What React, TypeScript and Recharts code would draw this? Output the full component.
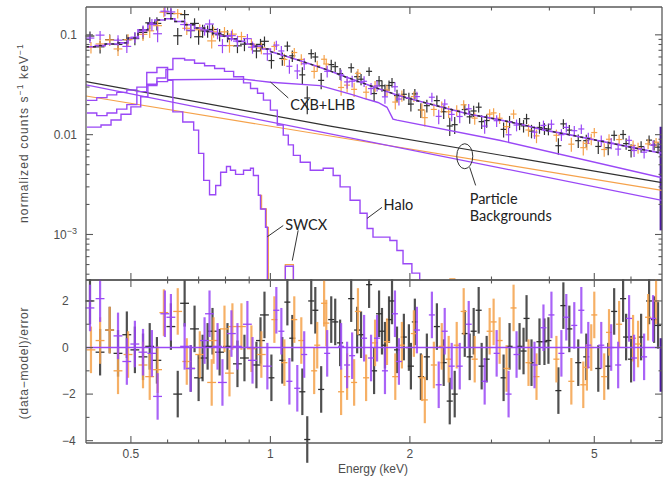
import React from 'react';
import {
  ComposedChart,
  Line,
  Scatter,
  ErrorBar,
  XAxis,
  YAxis,
  ReferenceLine,
  ReferenceDot,
} from 'recharts';

// ---------------- colours / fonts ----------------
const C_BLACK = '#303030';
const C_ORANGE = '#f5a24b';
const C_PURPLE = '#9a48f6';
const C_EDGE = '#4b1a9e';
const FRAME = '#5a5a5a';
const TICK_TEXT = '#4d4d4d';
const AXIS_FONT = '"Liberation Sans", Arial, Helvetica, sans-serif';
const NOTE_FONT = 'Lato, "Open Sans", "Noto Sans", sans-serif';

// ---------------- axes ----------------
const energyDomain = [0.4, 7];
const energyTicks = [0.5, 0.6, 0.7, 0.8, 0.9, 1, 2, 3, 4, 5, 6];
const energyMajor = [0.5, 1, 2, 5];
const energyLabels = ['0.5', '1', '2', '5'];

const fluxDomain = [3.5e-4, 0.19];
const fluxTicks = [
  0.0004, 0.0005, 0.0006, 0.0007, 0.0008, 0.0009, 0.001, 0.002, 0.003, 0.004, 0.005, 0.006, 0.007,
  0.008, 0.009, 0.01, 0.02, 0.03, 0.04, 0.05, 0.06, 0.07, 0.08, 0.09, 0.1,
];
const fluxMajor = [0.001, 0.01, 0.1];
const fluxLabels = ['10^-3', '0.01', '0.1'];

const residDomain = [-4.1, 2.9];
const residTicks = [-4, -3, -2, -1, 0, 1, 2];
const residMajor = [-4, -2, 0, 2];
const residLabels = ['−4', '−2', '0', '2'];

// ---------------- model components (keV, counts/s/keV) ----------------
const totalLowE = [0.4, 0.419, 0.44, 0.469, 0.493, 0.518, 0.544, 0.563, 0.592, 0.622, 0.653, 0.686, 0.721, 0.75, 0.78, 0.81, 0.845, 0.88, 0.92, 0.96, 1.0];
const totalLowV = [0.076, 0.078, 0.081, 0.083, 0.093, 0.112, 0.131, 0.141, 0.145, 0.136, 0.126, 0.117, 0.108, 0.103, 0.097, 0.091, 0.086, 0.081, 0.077, 0.072, 0.068];
const totalHighE = [1.0, 1.077, 1.16, 1.25, 1.346, 1.45, 1.56, 1.72, 1.875, 2.05, 2.21, 2.44, 2.69, 3.07, 3.45, 3.9, 4.41, 5.05, 5.66, 6.25, 7.0];
const totalHighV = [0.068, 0.0615, 0.055, 0.049, 0.0435, 0.038, 0.0337, 0.0287, 0.025, 0.0222, 0.0203, 0.018, 0.016, 0.0143, 0.0128, 0.0111, 0.01, 0.0088, 0.0079, 0.0072, 0.0065];

const cxbLowE = [0.402, 0.422, 0.444, 0.466, 0.49, 0.515, 0.541, 0.569, 0.6];
const cxbLowV = [0.022, 0.0235, 0.025, 0.0265, 0.028, 0.03, 0.032, 0.034, 0.0355];
const cxbHighE = [0.6, 0.875, 1.0, 1.281, 1.508, 1.585, 1.707, 1.785, 1.839, 1.876, 3.12, 7.0];
const cxbHighV = [0.0355, 0.036, 0.0335, 0.031, 0.025, 0.0232, 0.021, 0.0188, 0.0143, 0.014, 0.0088, 0.0037];

const haloE = [0.402, 0.431, 0.453, 0.476, 0.5, 0.525, 0.544, 0.569, 0.595, 0.616, 0.653, 0.686, 0.721, 0.758, 0.796, 0.833, 0.875, 0.906, 0.938, 0.966, 1.0, 1.035, 1.066, 1.093, 1.121, 1.16, 1.219, 1.3, 1.366, 1.414, 1.486, 1.561, 1.617, 1.665, 1.811, 1.875, 1.933, 2.02, 2.1, 7.0];
const haloV = [0.0119, 0.0125, 0.014, 0.016, 0.019, 0.024, 0.031, 0.037, 0.045, 0.058, 0.056, 0.052, 0.049, 0.046, 0.043, 0.038, 0.033, 0.029, 0.026, 0.0222, 0.0176, 0.0125, 0.0099, 0.0079, 0.0062, 0.0053, 0.0044, 0.0046, 0.0039, 0.003, 0.0022, 0.00163, 0.00115, 0.00094, 0.00087, 0.00069, 0.00051, 0.00041, 0.00001, 0.00001];

const swcxE = [0.402, 0.422, 0.444, 0.466, 0.49, 0.515, 0.541, 0.569, 0.6, 0.616, 0.647, 0.683, 0.7, 0.718, 0.739, 0.762, 0.781, 0.804, 0.82, 0.841, 0.875, 0.906, 0.919, 0.942, 0.952, 0.976, 0.985, 1.077, 1.121, 7.0];
const swcxV = [0.0165, 0.0155, 0.0165, 0.018, 0.02, 0.027, 0.042, 0.047, 0.035, 0.0169, 0.0134, 0.0111, 0.0065, 0.00348, 0.0025, 0.0031, 0.0042, 0.0048, 0.0044, 0.004, 0.0044, 0.0046, 0.0039, 0.00247, 0.0018, 0.00118, 0.00001, 0.00048, 0.00001, 0.00001];

// orange-detector copy of the SWCX/halo tail that peeks out near the bottom
const swcxOrangeE = [0.942, 0.957, 0.98, 0.99, 1.077, 1.121, 2.44, 2.5, 7.0];
const swcxOrangeV = [0.00247, 0.0018, 0.00118, 0.00001, 0.0005, 0.00001, 0.00036, 0.00001, 0.00001];

const particleE = [0.4, 1.346, 7.0];
const particleBlackV = [0.034, 0.0122, 0.0033];
const particleOrangeV = [0.0244, 0.0097, 0.00277];
const particlePurpleV = [0.0315, 0.0102, 0.0022];

// ---------------- data bins: energies and residuals ----------------
const blackE = [0.408, 0.429, 0.45, 0.469, 0.49, 0.51, 0.531, 0.549, 0.569, 0.61, 0.631, 0.653, 0.673, 0.686, 0.7, 0.714, 0.732, 0.75, 0.777, 0.808, 0.849, 0.879, 0.933, 0.952, 0.971, 1.005, 1.061, 1.088, 1.115, 1.172, 1.201, 1.225, 1.25, 1.287, 1.353, 1.38, 1.414, 1.494, 1.539, 1.569, 1.633, 1.674, 1.716, 1.741, 1.767, 1.803, 1.83, 1.876, 1.941, 1.99, 2.01, 2.05, 2.112, 2.176, 2.287, 2.366, 2.438, 2.499, 2.627, 2.692, 2.746, 2.815, 2.857, 2.929, 3.186, 3.282, 3.449, 3.518, 3.571, 3.66, 3.808, 3.903, 3.981, 4.183, 4.288, 4.417, 4.617, 4.805, 5.1, 5.358, 5.519, 5.77, 5.857, 6.003, 6.31, 6.565, 6.73, 6.864];
const blackR = [2.0, -0.2, 0.75, -0.25, 0.55, -0.1, -0.4, 0.05, -0.55, 0.9, -2.0, 1.9, -0.9, 0.8, -1.3, -0.45, 0.05, 0.7, -0.2, 0.05, -0.7, -0.45, -0.75, 0.3, 1.4, -1.3, -0.55, 1.95, 0.4, -1.9, -3.95, 2.0, 1.6, -1.8, 1.2, 1.1, 0.2, 2.1, 0.75, 0.55, 2.7, -1.0, 1.45, 0.7, 0.1, 1.2, 2.0, -0.1, 0.45, 0.0, -0.8, 1.1, -1.25, -0.4, 0.9, -0.65, -2.3, -2.0, 0.6, -0.4, 0.7, 1.6, -0.8, -0.5, -1.3, 0.05, 0.05, -0.15, 1.25, -0.65, 0.25, 0.25, 0.3, -1.85, 1.8, 0.8, -0.65, -0.4, -0.9, -0.8, 1.55, 2.1, 0.45, -0.5, 0.45, 2.0, 1.2, 0.95];

const orangeE = [0.41, 0.429, 0.45, 0.469, 0.493, 0.531, 0.549, 0.571, 0.589, 0.631, 0.66, 0.704, 0.747, 0.754, 0.796, 0.816, 0.828, 0.866, 0.91, 0.956, 1.02, 1.072, 1.126, 1.166, 1.243, 1.262, 1.306, 1.32, 1.421, 1.464, 1.516, 1.545, 1.609, 1.682, 1.785, 1.86, 1.922, 2.04, 2.123, 2.154, 2.253, 2.343, 2.425, 2.524, 2.613, 2.76, 2.973, 3.032, 3.124, 3.233, 3.348, 3.606, 3.752, 4.142, 4.461, 4.734, 4.82, 4.925, 5.0, 5.253, 5.38, 5.657, 6.063, 6.215, 6.533, 6.797];
const orangeR = [-0.1, 0.3, 0.75, -1.0, -0.3, -0.75, -1.25, -0.95, 1.5, 1.55, -0.6, -0.3, -1.5, 0.3, 0.8, -1.1, 0.9, 0.9, -0.05, -0.3, 1.2, -0.65, 1.2, 0.3, -1.0, 0.1, 1.9, 1.05, -1.9, -1.25, -1.5, 1.55, -1.3, 0.2, 0.25, -1.25, 0.1, 0.6, -1.3, -2.25, -0.75, 0.05, -0.5, 0.1, 1.55, -0.5, 0.7, 1.1, 0.3, -0.9, 1.7, -0.65, -1.25, -0.5, -1.45, -1.6, -0.85, 0.0, 1.4, -1.25, 0.65, 1.0, 0.4, 0.15, 1.3, 2.0];

const purpleE = [0.408, 0.429, 0.469, 0.49, 0.51, 0.531, 0.555, 0.571, 0.592, 0.61, 0.653, 0.673, 0.721, 0.739, 0.769, 0.788, 0.824, 0.849, 0.892, 0.915, 0.985, 1.03, 1.056, 1.099, 1.143, 1.183, 1.326, 1.421, 1.464, 1.501, 1.593, 1.649, 1.699, 1.767, 1.857, 1.894, 2.071, 2.231, 2.308, 2.378, 2.462, 2.562, 2.679, 2.9, 3.078, 3.266, 3.398, 3.715, 3.884, 4.041, 4.246, 4.351, 4.527, 4.688, 4.853, 5.176, 5.438, 5.63, 5.944, 6.093, 6.405, 6.696];
const purpleR = [1.7, 2.1, 0.5, -0.6, 0.15, -0.2, -0.25, -2.1, 1.45, 1.3, 0.05, -0.9, 0.3, 1.45, 0.05, -1.5, 0.6, 0.05, 1.0, -0.55, -0.8, 1.6, 0.7, -1.45, -1.75, -0.3, -0.25, 0.05, -0.75, -0.35, 0.4, -0.45, 0.4, -1.0, 1.45, -0.6, 0.75, 1.4, -1.6, 0.7, -0.8, -0.8, 1.0, -1.45, -0.25, -2.0, -0.3, -0.75, 0.85, 1.4, -0.25, 1.3, 0.95, 1.6, 0.1, 0.1, 0.0, -0.75, 1.25, -0.45, -0.4, 1.25];

// last, very wide purple bin at the band edge
const edgeE = [6.96];
const edgeFlux = [0.0045];
const edgeFluxErr = [[0.0034, 0.0075]];
const edgeResid = [-0.75];
const edgeResidErr = [[1.15, 1.15]];

const blackRelErr = 0.14;
const orangeRelErr = 0.13;
const purpleRelErr = 0.13;

// ---------------- helpers ----------------
const toPts = (E: number[], V: number[]) => E.map((e, i) => ({ x: e, y: V[i] }));

function modelAt(e: number): number {
  if (e < totalHighE[0]) {
    let v = totalLowV[0];
    for (let i = 0; i < totalLowE.length; i++) if (totalLowE[i] <= e) v = totalLowV[i];
    return v;
  }
  for (let i = 0; i < totalHighE.length - 1; i++) {
    if (e >= totalHighE[i] && e <= totalHighE[i + 1]) {
      const t = Math.log(e / totalHighE[i]) / Math.log(totalHighE[i + 1] / totalHighE[i]);
      return Math.exp(Math.log(totalHighV[i]) + t * Math.log(totalHighV[i + 1] / totalHighV[i]));
    }
  }
  return totalHighV[totalHighV.length - 1];
}

const binHalf = (e: number) => e * (e < 1 ? 0.022 : 0.015);

const buildSpectrum = (E: number[], R: number[], rel: number) =>
  E.map((e, i) => {
    const m = modelAt(e);
    const err = m * rel;
    return { x: e, y: m + (R[i] ?? 0) * err, ey: err, ex: binHalf(e) };
  });

const buildResid = (E: number[], R: number[]) =>
  E.map((e, i) => ({ x: e, y: R[i] ?? 0, ey: 1, ex: binHalf(e) }));

const blackTop = buildSpectrum(blackE, blackR, blackRelErr);
const orangeTop = buildSpectrum(orangeE, orangeR, orangeRelErr);
const purpleTop = buildSpectrum(purpleE, purpleR, purpleRelErr);
const blackRes = buildResid(blackE, blackR);
const orangeRes = buildResid(orangeE, orangeR);
const purpleRes = buildResid(purpleE, purpleR);
const edgeTop = edgeE.map((e, i) => ({ x: e, y: edgeFlux[i], ey: edgeFluxErr[i], ex: 0.02 }));
const edgeRes = edgeE.map((e, i) => ({ x: e, y: edgeResid[i], ey: edgeResidErr[i], ex: 0.02 }));

// ---------------- ticks ----------------
const findMajor = (majors: number[], v: number) =>
  majors.findIndex((m) => (m === 0 ? Math.abs(v) < 1e-9 : Math.abs(v - m) <= Math.abs(m) * 1e-6));

function TickText({ s, x, y, anchor, dy }: any) {
  const m = /^10\^(.+)$/.exec(s);
  return (
    <text x={x} y={y} dy={dy} textAnchor={anchor} fill={TICK_TEXT} fontSize={12} fontFamily={AXIS_FONT}>
      {m ? (
        <>
          10
          <tspan dy={-5} fontSize={9}>
            {m[1].replace('-', '−')}
          </tspan>
        </>
      ) : (
        s
      )}
    </text>
  );
}

const makeYTick =
  (dir: number, majors: number[], labels: string[] | null, labelDx: number, anchor: string) =>
  (props: any) => {
    const { x, y, payload } = props;
    const idx = findMajor(majors, payload.value);
    const len = idx >= 0 ? 7 : 3.5;
    return (
      <g>
        <line x1={x} y1={y} x2={x + dir * len} y2={y} stroke={FRAME} strokeWidth={1.1} />
        {labels && idx >= 0 ? <TickText s={labels[idx]} x={x + labelDx} y={y} anchor={anchor} dy="0.36em" /> : null}
      </g>
    );
  };

const makeXTick = (dir: number, majors: number[], labels: string[] | null) => (props: any) => {
  const { x, y, payload } = props;
  const idx = findMajor(majors, payload.value);
  const len = idx >= 0 ? 7 : 3.5;
  return (
    <g>
      <line x1={x} y1={y} x2={x} y2={y + dir * len} stroke={FRAME} strokeWidth={1.1} />
      {labels && idx >= 0 ? <TickText s={labels[idx]} x={x} y={y + 15} anchor="middle" dy="0" /> : null}
    </g>
  );
};

const noShape = () => <g />;
const axisLineStyle = { stroke: FRAME, strokeWidth: 1.3 };
const lineCommon = { dataKey: 'y', dot: false, activeDot: false, isAnimationActive: false, legendType: 'none' as const };

const note = (text: string) => (p: any) =>
  (
    <text x={p.cx} y={p.cy} dy="0.35em" fontSize={14.5} fill="#222" fontFamily={NOTE_FONT}>
      {text}
    </text>
  );
const ellipseShape = (p: any) => <ellipse cx={p.cx} cy={p.cy} rx={8} ry={12.5} fill="none" stroke="#333" strokeWidth={1} />;

export default function App() {
  const topSeries = (
    [
      [blackTop, C_BLACK],
      [orangeTop, C_ORANGE],
      [purpleTop, C_PURPLE],
    ] as any[]
  ).map(([d, c], i) => (
    <Scatter key={'ts' + i} data={d} dataKey="y" isAnimationActive={false} shape={noShape} legendType="none">
      <ErrorBar dataKey="ey" direction="y" width={0} stroke={c} strokeWidth={1.2} isAnimationActive={false} />
      <ErrorBar dataKey="ex" direction="x" width={0} stroke={c} strokeWidth={1.2} isAnimationActive={false} />
    </Scatter>
  ));

  const resSeries = (
    [
      [blackRes, C_BLACK],
      [orangeRes, C_ORANGE],
      [purpleRes, C_PURPLE],
    ] as any[]
  ).map(([d, c], i) => (
    <Scatter key={'rs' + i} data={d} dataKey="y" isAnimationActive={false} shape={noShape} legendType="none">
      <ErrorBar dataKey="ey" direction="y" width={0} stroke={c} strokeWidth={2.2} strokeOpacity={0.85} isAnimationActive={false} />
      <ErrorBar dataKey="ex" direction="x" width={0} stroke={c} strokeWidth={1.3} isAnimationActive={false} />
    </Scatter>
  ));

  return (
    <div style={{ position: 'absolute', left: 0, top: 0, width: 671, height: 479, background: '#fff', overflow: 'hidden' }}>
      {/* upper panel */}
      <div style={{ position: 'absolute', left: 0, top: 0 }}>
        <ComposedChart width={671} height={281} margin={{ top: 6, right: 8, bottom: 0, left: 85 }}>
          <XAxis dataKey="x" type="number" scale="log" domain={energyDomain} allowDataOverflow ticks={energyTicks} interval={0} tickSize={0} tickMargin={0} tickLine={false} axisLine={axisLineStyle} tick={makeXTick(-1, energyMajor, null)} height={1} orientation="bottom" />
          <XAxis xAxisId="top" dataKey="x" type="number" scale="log" domain={energyDomain} allowDataOverflow ticks={energyTicks} interval={0} tickSize={0} tickMargin={0} tickLine={false} axisLine={axisLineStyle} tick={makeXTick(1, energyMajor, null)} height={1} orientation="top" />
          <YAxis type="number" scale="log" domain={fluxDomain} allowDataOverflow ticks={fluxTicks} interval={0} tickSize={0} tickMargin={0} tickLine={false} axisLine={axisLineStyle} tick={makeYTick(1, fluxMajor, fluxLabels, -9, 'end')} width={1} orientation="left" />
          <YAxis yAxisId="right" type="number" scale="log" domain={fluxDomain} allowDataOverflow ticks={fluxTicks} interval={0} tickSize={0} tickMargin={0} tickLine={false} axisLine={axisLineStyle} tick={makeYTick(-1, fluxMajor, null, 0, 'start')} width={1} orientation="right" />

          {topSeries}
          <Scatter data={edgeTop} dataKey="y" isAnimationActive={false} shape={noShape} legendType="none">
            <ErrorBar dataKey="ey" direction="y" width={0} stroke={C_EDGE} strokeWidth={2.5} isAnimationActive={false} />
          </Scatter>

          <Line data={toPts(particleE, particleBlackV)} type="linear" stroke={C_BLACK} strokeWidth={1.2} {...lineCommon} />
          <Line data={toPts(particleE, particleOrangeV)} type="linear" stroke={C_ORANGE} strokeWidth={1.2} {...lineCommon} />
          <Line data={toPts(particleE, particlePurpleV)} type="linear" stroke={C_PURPLE} strokeWidth={1.2} {...lineCommon} />

          <Line data={toPts(swcxOrangeE, swcxOrangeV)} type="stepAfter" stroke={C_ORANGE} strokeWidth={1.3} {...lineCommon} />

          <Line data={toPts(cxbLowE, cxbLowV)} type="stepAfter" stroke={C_PURPLE} strokeWidth={1.3} {...lineCommon} />
          <Line data={toPts(cxbHighE, cxbHighV)} type="linear" stroke={C_PURPLE} strokeWidth={1.4} {...lineCommon} />
          <Line data={toPts(haloE, haloV)} type="stepAfter" stroke={C_PURPLE} strokeWidth={1.4} {...lineCommon} />
          <Line data={toPts(swcxE, swcxV)} type="stepAfter" stroke={C_PURPLE} strokeWidth={1.4} {...lineCommon} />

          <Line data={toPts(totalLowE, totalLowV)} type="stepAfter" stroke={C_PURPLE} strokeWidth={1.6} {...lineCommon} />
          <Line data={toPts(totalLowE, totalLowV)} type="stepAfter" stroke={C_BLACK} strokeWidth={1.4} strokeDasharray="3 4" {...lineCommon} />
          <Line data={toPts(totalHighE, totalHighV)} type="linear" stroke={C_PURPLE} strokeWidth={1.6} {...lineCommon} />
          <Line data={toPts(totalHighE, totalHighV)} type="linear" stroke={C_BLACK} strokeWidth={1.4} strokeDasharray="3 4" {...lineCommon} />

          {/* annotations */}
          <ReferenceLine segment={[{ x: 1.0, y: 0.0337 }, { x: 1.093, y: 0.0233 }]} stroke="#333" strokeWidth={1} />
          <ReferenceDot x={1.104} y={0.0198} r={1} shape={note('CXB+LHB')} />
          <ReferenceLine segment={[{ x: 1.741, y: 0.00187 }, { x: 1.617, y: 0.00145 }]} stroke="#333" strokeWidth={1} />
          <ReferenceDot x={1.755} y={0.002} r={1} shape={note('Halo')} />
          <ReferenceLine segment={[{ x: 1.066, y: 0.00123 }, { x: 0.985, y: 0.00095 }]} stroke="#333" strokeWidth={1} />
          <ReferenceLine segment={[{ x: 1.148, y: 0.0011 }, { x: 1.115, y: 0.000548 }]} stroke="#333" strokeWidth={1} />
          <ReferenceDot x={1.077} y={0.00126} r={1} shape={note('SWCX')} />
          <ReferenceDot x={2.627} y={0.00608} r={1} shape={ellipseShape} />
          <ReferenceLine segment={[{ x: 2.692, y: 0.00471 }, { x: 2.773, y: 0.0031 }]} stroke="#333" strokeWidth={1} />
          <ReferenceDot x={2.692} y={0.00225} r={1} shape={note('Particle')} />
          <ReferenceDot x={2.692} y={0.00152} r={1} shape={note('Backgrounds')} />
        </ComposedChart>
      </div>

      {/* residual panel */}
      <div style={{ position: 'absolute', left: 0, top: 279 }}>
        <ComposedChart width={671} height={200} margin={{ top: 0, right: 8, bottom: 35, left: 85 }}>
          <XAxis dataKey="x" type="number" scale="log" domain={energyDomain} allowDataOverflow ticks={energyTicks} interval={0} tickSize={0} tickMargin={0} tickLine={false} axisLine={axisLineStyle} tick={makeXTick(-1, energyMajor, energyLabels)} height={1} orientation="bottom" />
          <XAxis xAxisId="top" dataKey="x" type="number" scale="log" domain={energyDomain} allowDataOverflow ticks={energyTicks} interval={0} tickSize={0} tickMargin={0} tickLine={false} axisLine={axisLineStyle} tick={makeXTick(1, energyMajor, null)} height={1} orientation="top" />
          <YAxis type="number" domain={residDomain} allowDataOverflow ticks={residTicks} interval={0} tickSize={0} tickMargin={0} tickLine={false} axisLine={axisLineStyle} tick={makeYTick(1, residMajor, residLabels, -24, 'start')} width={1} orientation="left" />
          <YAxis yAxisId="right" type="number" domain={residDomain} allowDataOverflow ticks={residTicks} interval={0} tickSize={0} tickMargin={0} tickLine={false} axisLine={axisLineStyle} tick={makeYTick(-1, residMajor, null, 0, 'start')} width={1} orientation="right" />

          {resSeries}
          <Scatter data={edgeRes} dataKey="y" isAnimationActive={false} shape={noShape} legendType="none">
            <ErrorBar dataKey="ey" direction="y" width={0} stroke={C_EDGE} strokeWidth={2.5} isAnimationActive={false} />
          </Scatter>
          <ReferenceLine y={0} stroke={C_PURPLE} strokeWidth={1.5} />
        </ComposedChart>
      </div>

      {/* axis titles */}
      <svg width={671} height={479} style={{ position: 'absolute', left: 0, top: 0, pointerEvents: 'none' }}>
        <text transform="translate(28,133) rotate(-90)" textAnchor="middle" fontSize={12} letterSpacing={1.1} fill={TICK_TEXT} fontFamily={AXIS_FONT}>
          normalized counts s
          <tspan dy={-5} fontSize={8.5}>
            −1
          </tspan>
          <tspan dy={5}> keV</tspan>
          <tspan dy={-5} fontSize={8.5}>
            −1
          </tspan>
        </text>
        <text transform="translate(28,363) rotate(-90)" textAnchor="middle" fontSize={12} letterSpacing={0.7} fill={TICK_TEXT} fontFamily={AXIS_FONT}>
          (data−model)/error
        </text>
        <text x={373} y={473} textAnchor="middle" fontSize={12} fill={TICK_TEXT} fontFamily={AXIS_FONT}>
          Energy (keV)
        </text>
      </svg>
    </div>
  );
}
